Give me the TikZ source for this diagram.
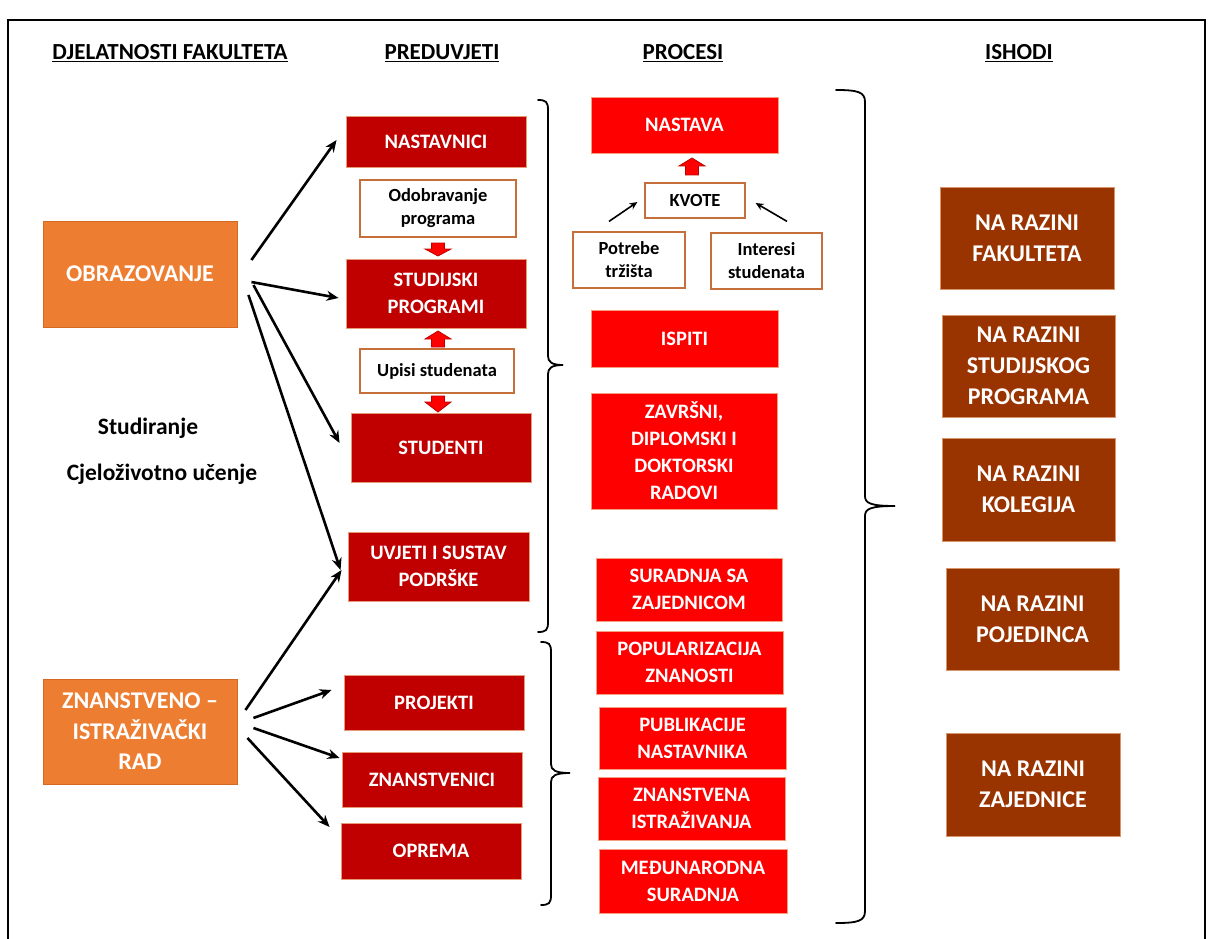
\documentclass[tikz,border=0pt]{standalone}
\usepackage{fontspec}
\setmainfont{Carlito}
\usetikzlibrary{calc,arrows.meta}
\definecolor{orng}{HTML}{ED7D31}
\definecolor{orngedge}{HTML}{D46A22}
\definecolor{dred}{HTML}{C00000}
\definecolor{dredge}{HTML}{E59A78}
\definecolor{bred}{HTML}{FF0000}
\definecolor{bredge}{HTML}{F2A080}
\definecolor{brwn}{HTML}{993300}
\definecolor{brwnedge}{HTML}{D9956A}
\definecolor{noteedge}{HTML}{C5703A}
\newcommand\blkdown[3]{\draw[blockarrow] (#1-6.5,#2) -- (#1+6.5,#2) -- (#1+6.5,#2+6) -- (#1+13,#2+6) -- (#1,#3) -- (#1-13,#2+6) -- (#1-6.5,#2+6) -- cycle;}
\newcommand\blkup[3]{\draw[blockarrow] (#1,#2) -- (#1+13,#2+8) -- (#1+6.5,#2+8) -- (#1+6.5,#3) -- (#1-6.5,#3) -- (#1-6.5,#2+8) -- (#1-13,#2+8) -- cycle;}
\tikzset{
  base/.style={rectangle, inner sep=1pt, align=center, line width=0.9pt},
  sz/.style 2 args={minimum width=#1pt, minimum height=#2pt},
  orangebox/.style={base, fill=orng, draw=orngedge, text=white, font=\fontsize{24}{30.5}\selectfont\bfseries},
  prebox/.style={base, fill=dred, draw=dredge, text=white, font=\fontsize{20.5}{27}\selectfont\bfseries},
  procbox/.style={base, fill=bred, draw=bredge, text=white, font=\fontsize{20.5}{27}\selectfont\bfseries},
  outbox/.style={base, fill=brwn, draw=brwnedge, text=white, font=\fontsize{24}{31}\selectfont\bfseries},
  notebox/.style={base, fill=white, draw=noteedge, line width=1.2pt, text=black, font=\fontsize{18.5}{23}\selectfont\bfseries},
  header/.style={font=\fontsize{23}{26}\selectfont\bfseries},
  plaintext/.style={font=\fontsize{23.5}{26}\selectfont\bfseries},
  arr/.style={line width=2.6pt, -{Stealth[length=12pt,width=10pt]}},
  smallarr/.style={line width=1.6pt, -{Stealth[length=8pt,width=7pt]}},
  brace/.style={line width=1.8pt, line cap=round},
  blockarrow/.style={fill=bred, draw=dred, line width=0.8pt, line join=miter},
  frame/.style={line width=1.2pt},
}
\begin{document}
\begin{tikzpicture}[x=1pt,y=-1pt]
\useasboundingbox (0,0) rectangle (1213,939);
\draw[frame] (8,939) -- (8,20) -- (1205,20) -- (1205,939);

% headers
\node[header] (h1) at (170,53) {\underline{DJELATNOSTI FAKULTETA}};
\node[header] (h2) at (442,53) {\underline{PREDUVJETI}};
\node[header] (h3) at (683,53) {\underline{PROCESI}};
\node[header] (h4) at (1019,53) {\underline{ISHODI}};

% column 1
\node[orangebox, sz={194}{106}] (obr) at (140,274) {OBRAZOVANJE};
\node[orangebox, sz={194}{105}] (zir) at (140,731.5) {ZNANSTVENO –\\ISTRAŽIVAČKI\\RAD};
\node[plaintext] (t1) at (148,428) {Studiranje};
\node[plaintext] (t2) at (162,474) {Cjeloživotno učenje};

% column 2
\node[prebox, sz={180}{51}] (nast) at (436,141.5) {NASTAVNICI};
\node[notebox, sz={156}{57}] (odob) at (438,208.5) {Odobravanje\\programa};
\node[prebox, sz={180}{69}] (stud) at (436,293.5) {STUDIJSKI\\PROGRAMI};
\node[notebox, sz={154}{44}] (upis) at (437,371) {Upisi studenata};
\node[prebox, sz={180}{69}] (studenti) at (441,447.5) {STUDENTI};
\node[prebox, sz={181}{69}] (uvj) at (438.5,566.5) {UVJETI I SUSTAV\\PODRŠKE};
\node[prebox, sz={180}{55}] (proj) at (434,702.5) {PROJEKTI};
\node[prebox, sz={180}{55}] (znan) at (432,779.5) {ZNANSTVENICI};
\node[prebox, sz={180}{56}] (oprema) at (431,851) {OPREMA};

\blkdown{438}{243}{256}
\blkup{438}{331}{347}
\blkdown{438}{396}{412}

% column 3
\node[procbox, sz={187}{56}] (nastava) at (684.5,125) {NASTAVA};
\node[notebox, sz={100}{35}] (kvote) at (695,200.5) {KVOTE};
\node[notebox, sz={112}{56}] (potrebe) at (629,260) {Potrebe\\tržišta};
\node[notebox, sz={111}{56}] (interesi) at (766.5,261) {Interesi\\studenata};
\node[procbox, sz={187}{57}] (ispiti) at (684.5,338.5) {ISPITI};
\node[procbox, sz={186}{116}] (zavrsni) at (684,451) {ZAVRŠNI,\\DIPLOMSKI I\\DOKTORSKI\\RADOVI};
\node[procbox, sz={186}{63}] (surad) at (689,589.5) {SURADNJA SA\\ZAJEDNICOM};
\node[procbox, sz={187}{63}] (popul) at (689.5,662.5) {POPULARIZACIJA\\ZNANOSTI};
\node[procbox, sz={187}{62}] (publ) at (692.5,738) {PUBLIKACIJE\\NASTAVNIKA};
\node[procbox, sz={187}{63}] (znist) at (691.5,808.5) {ZNANSTVENA\\ISTRAŽIVANJA};
\node[procbox, sz={188}{64}] (medj) at (693,881) {MEĐUNARODNA\\SURADNJA};

\blkup{692}{158}{175}

% column 4
\node[outbox, sz={174}{102}] (r1) at (1027,238) {NA RAZINI\\FAKULTETA};
\node[outbox, sz={173}{102}] (r2) at (1028.5,366) {NA RAZINI\\STUDIJSKOG\\PROGRAMA};
\node[outbox, sz={173}{103}] (r3) at (1028.5,489.5) {NA RAZINI\\KOLEGIJA};
\node[outbox, sz={173}{102}] (r4) at (1032.5,619) {NA RAZINI\\POJEDINCA};
\node[outbox, sz={174}{103}] (r5) at (1033,784.5) {NA RAZINI\\ZAJEDNICE};

% arrows
\draw[arr] ($(obr.east)+(14,-14)$) -- ($(nast.west)+(-9,-1.5)$);
\draw[arr] ($(obr.east)+(14,8)$) -- ($(stud.west)+(-7,4.5)$);
\draw[arr] ($(obr.east)+(16,11)$) -- ($(studenti.west)+(-11,-4.5)$);
\draw[arr] ($(obr.east)+(11,21)$) -- ($(uvj.west)+(-7,3.5)$);
\draw[arr] ($(zir.east)+(8,-21.5)$) -- ($(uvj.west)+(-6,3.5)$);
\draw[arr] ($(zir.east)+(16,-13.5)$) -- ($(proj.west)+(-12,-12.5)$);
\draw[arr] ($(zir.east)+(16,-3.5)$) -- ($(znan.west)+(-2,-21.5)$);
\draw[arr] ($(zir.east)+(10,6.5)$) -- ($(oprema.west)+(-11,-24)$);

\draw[smallarr] ($(potrebe.north)+(-20,-10)$) -- ($(kvote.west)+(-7,1.5)$);
\draw[smallarr] ($(interesi.north)+(20.5,-11)$) -- ($(kvote.east)+(10,2.5)$);

% braces
\draw[brace] (538,100) .. controls (546,100) and (548,102) .. (548,110) -- (548,356)
  .. controls (548,362) and (552,365) .. (563,365) .. controls (552,365) and (548,368) .. (548,374)
  -- (548,622) .. controls (548,630) and (546,632) .. (538,632);
\draw[brace] (541,642) .. controls (549,642) and (551,644) .. (551,652) -- (551,764)
  .. controls (551,770) and (555,773) .. (570,773) .. controls (555,773) and (551,776) .. (551,782)
  -- (551,895) .. controls (551,903) and (549,905) .. (541,905);
\draw[brace] (836,90) .. controls (858,90) and (865,92) .. (865,102) -- (865,496)
  .. controls (865,503) and (870,506) .. (895,506) .. controls (870,506) and (865,509) .. (865,516)
  -- (865,911) .. controls (865,921) and (858,923) .. (836,923);
\end{tikzpicture}
\end{document}
